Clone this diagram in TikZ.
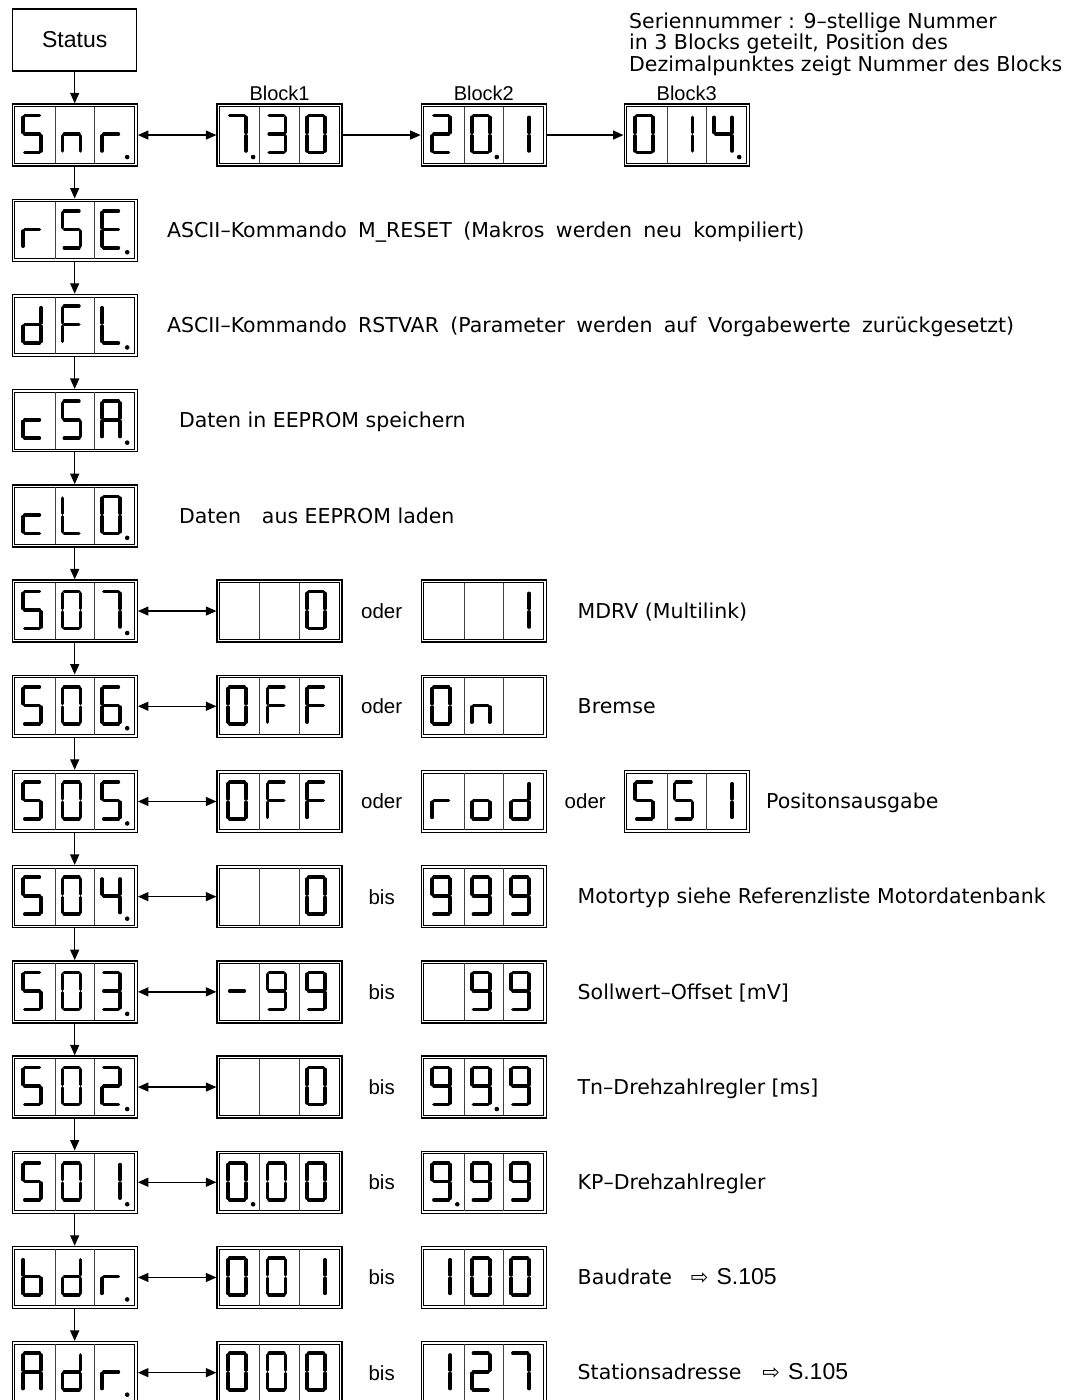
\documentclass[tikz,border=0pt]{standalone}
\usepackage{fontspec}
\setmainfont{DejaVu Sans}
\newfontfamily\arialfont{Liberation Sans}
\usetikzlibrary{arrows.meta,positioning,calc}

\pgfkeys{
  /seven/0/.initial={a,b,c,d,e,f},
  /seven/1/.initial={b,c},
  /seven/2/.initial={a,b,d,e,g},
  /seven/3/.initial={a,b,c,d,g},
  /seven/4/.initial={b,c,f,g},
  /seven/5/.initial={a,c,d,f,g},
  /seven/6/.initial={a,c,d,e,f,g},
  /seven/7/.initial={a,b,c},
  /seven/9/.initial={a,b,c,d,f,g},
  /seven/A/.initial={a,b,c,e,f,g},
  /seven/b/.initial={c,d,e,f,g},
  /seven/c/.initial={d,e,g},
  /seven/d/.initial={b,c,d,e,g},
  /seven/E/.initial={a,d,e,f,g},
  /seven/F/.initial={a,e,f,g},
  /seven/L/.initial={d,e,f},
  /seven/n/.initial={c,e,g},
  /seven/o/.initial={c,d,e,g},
  /seven/r/.initial={e,g},
  /seven/-/.initial={g},
  /seven/x/.initial={z},
  /seven/seg/a/.initial={(1.7,0) -- (16.3,0)},
  /seven/seg/b/.initial={(18,1.7) -- (18,16.8)},
  /seven/seg/c/.initial={(18,20.2) -- (18,35.3)},
  /seven/seg/d/.initial={(1.7,37) -- (16.3,37)},
  /seven/seg/e/.initial={(0,20.2) -- (0,35.3)},
  /seven/seg/f/.initial={(0,1.7) -- (0,16.8)},
  /seven/seg/g/.initial={(1.7,18.5) -- (16.3,18.5)},
  /seven/seg/z/.initial={(0,0)},
}

\tikzset{
  seg/.style={line width=3.6pt, line cap=round},
  pics/digit/.style={code={%
    \pgfkeysgetvalue{/seven/#1}\seglist
    \foreach \s in \seglist {\pgfkeysgetvalue{/seven/seg/\s}\segpath \draw[seg] \segpath;}
  }},
}

\newcommand\disp[6]{%
  \node[dispbox, #2] (#1) {};
  \draw[dispin] ([shift={(3.3,3.3)}]#1.north west) rectangle ([shift={(-3.3,-3.3)}]#1.south east);
  \draw[divider] ([shift={(-19.75,3.3)}]#1.north) -- ([shift={(-19.75,-3.3)}]#1.south);
  \draw[divider] ([shift={(19.75,3.3)}]#1.north) -- ([shift={(19.75,-3.3)}]#1.south);
  \foreach \ch [count=\k from 0] in {#3,#4,#5}
    \pic at ([shift={(-51.6+39.5*\k,-19.4)}]#1.center) {digit=\ch};
  \ifnum#6>0 \fill ([shift={(-66+39.5*#6,22)}]#1.center) circle[radius=2.3pt];\fi
}

\begin{document}
\begin{tikzpicture}[x=1pt, y=-1pt,
    dispbox/.style={draw, line width=1.4pt, minimum width=125pt, minimum height=62pt, inner sep=0pt},
    dispin/.style={line width=0.9pt},
    divider/.style={line width=0.8pt, black!75},
    statbox/.style={draw, line width=1.2pt, minimum width=124pt, minimum height=62pt, font=\arialfont\fontsize{23}{25}\selectfont},
    blbl/.style={font=\arialfont\fontsize{20}{22}\selectfont, inner sep=0pt, text depth=0pt},
    conj/.style={font=\arialfont\fontsize{20.5}{22}\selectfont, inner sep=0pt, text height=15pt, text depth=0pt},
    desc/.style={anchor=west, font=\fontsize{20.5}{22}\selectfont, inner sep=0pt, text height=14.5pt, text depth=0pt},
    wide/.style={execute at begin node={\spaceskip=11.4pt plus 1pt minus 1pt}},
    note/.style={anchor=base west, font=\fontsize{20.5}{21.5}\selectfont, inner sep=0pt},
    arr/.style={-{Triangle[length=10.5pt,width=9pt]}, line width=1.3pt},
    darr/.style={{Triangle[length=10.5pt,width=9pt]}-{Triangle[length=10.5pt,width=9pt]}, line width=1.3pt}
  ]
  \useasboundingbox (0,0) rectangle (1089,1400);
  \node[statbox] (status) at (74.7,40) {Status};
  \node[note] (n1) at (629,28) {Seriennummer : 9–stellige Nummer};
  \node[note] (n2) at (629,49.5) {in 3 Blocks geteilt, Position des};
  \node[note] (n3) at (629,71) {Dezimalpunktes zeigt Nummer des Blocks};

  \disp{s0}{below=31.75pt of status}{5}{n}{r}{3}
  \disp{b1}{right=78.5pt of s0}{7}{3}{0}{1}
  \disp{b2}{right=77.8pt of b1}{2}{0}{1}{2}
  \disp{b3}{right=76.5pt of b2}{0}{1}{4}{3}
  \node[blbl, above=3pt of b1] (l1) {Block1};
  \node[blbl, above=3pt of b2] (l2) {Block2};
  \node[blbl, above=3pt of b3] (l3) {Block3};

  \disp{s1}{below=31.8pt of s0}{r}{5}{E}{3}
  \disp{s2}{below=31.8pt of s1}{d}{F}{L}{3}
  \disp{s3}{below=31.8pt of s2}{c}{5}{A}{3}
  \disp{s4}{below=31.8pt of s3}{c}{L}{0}{3}
  \disp{s5}{below=31.8pt of s4}{5}{0}{7}{3}
  \disp{s6}{below=31.8pt of s5}{5}{0}{6}{3}
  \disp{s7}{below=31.8pt of s6}{5}{0}{5}{3}
  \disp{s8}{below=31.8pt of s7}{5}{0}{4}{3}
  \disp{s9}{below=31.8pt of s8}{5}{0}{3}{3}
  \disp{s10}{below=31.8pt of s9}{5}{0}{2}{3}
  \disp{s11}{below=31.8pt of s10}{5}{0}{1}{3}
  \disp{s12}{below=31.8pt of s11}{b}{d}{r}{3}
  \disp{s13}{below=31.8pt of s12}{A}{d}{r}{3}

  \node[desc, wide, right=29pt of s1] (t1) {ASCII–Kommando M\_RESET (Makros werden neu kompiliert)};
  \node[desc, wide, right=29pt of s2] (t2) {ASCII–Kommando RSTVAR (Parameter werden auf Vorgabewerte zurückgesetzt)};
  \node[desc, right=41pt of s3] (t3) {Daten in EEPROM speichern};
  \node[desc, right=41pt of s4] (t4) {Daten\hspace{0.7em} aus EEPROM laden};

  \disp{v5-a}{right=78.5pt of s5}{x}{x}{0}{0}
  \disp{v5-b}{right=77.8pt of v5-a}{x}{x}{1}{0}
  \node[conj] (c5) at ($(v5-a.east)!0.5!(v5-b.west)$) {oder};
  \node[desc, right=30.5pt of v5-b] (t5) {MDRV (Multilink)};

  \disp{v6-a}{right=78.5pt of s6}{0}{F}{F}{0}
  \disp{v6-b}{right=77.8pt of v6-a}{0}{n}{x}{0}
  \node[conj] (c6) at ($(v6-a.east)!0.5!(v6-b.west)$) {oder};
  \node[desc, right=30.5pt of v6-b] (t6) {Bremse};

  \disp{v7-a}{right=78.5pt of s7}{0}{F}{F}{0}
  \disp{v7-b}{right=77.8pt of v7-a}{r}{o}{d}{0}
  \disp{v7-c}{right=76.5pt of v7-b}{5}{5}{1}{0}
  \node[conj] (c7) at ($(v7-a.east)!0.5!(v7-b.west)$) {oder};
  \node[conj] (d7) at ($(v7-b.east)!0.5!(v7-c.west)$) {oder};
  \node[desc, right=16pt of v7-c] (t7) {Positonsausgabe};

  \disp{v8-a}{right=78.5pt of s8}{x}{x}{0}{0}
  \disp{v8-b}{right=77.8pt of v8-a}{9}{9}{9}{0}
  \node[conj] (c8) at ($(v8-a.east)!0.5!(v8-b.west)$) {bis};
  \node[desc, right=30.5pt of v8-b] (t8) {Motortyp siehe Referenzliste Motordatenbank};

  \disp{v9-a}{right=78.5pt of s9}{-}{9}{9}{0}
  \disp{v9-b}{right=77.8pt of v9-a}{x}{9}{9}{0}
  \node[conj] (c9) at ($(v9-a.east)!0.5!(v9-b.west)$) {bis};
  \node[desc, right=30.5pt of v9-b] (t9) {Sollwert–Offset [mV]};

  \disp{v10-a}{right=78.5pt of s10}{x}{x}{0}{0}
  \disp{v10-b}{right=77.8pt of v10-a}{9}{9}{9}{2}
  \node[conj] (c10) at ($(v10-a.east)!0.5!(v10-b.west)$) {bis};
  \node[desc, right=30.5pt of v10-b] (t10) {Tn–Drehzahlregler [ms]};

  \disp{v11-a}{right=78.5pt of s11}{0}{0}{0}{1}
  \disp{v11-b}{right=77.8pt of v11-a}{9}{9}{9}{1}
  \node[conj] (c11) at ($(v11-a.east)!0.5!(v11-b.west)$) {bis};
  \node[desc, right=30.5pt of v11-b] (t11) {KP–Drehzahlregler};

  \disp{v12-a}{right=78.5pt of s12}{0}{0}{1}{0}
  \disp{v12-b}{right=77.8pt of v12-a}{1}{0}{0}{0}
  \node[conj] (c12) at ($(v12-a.east)!0.5!(v12-b.west)$) {bis};
  \node[desc, right=30.5pt of v12-b] (t12) {Baudrate\hspace{19pt}{\fontsize{21}{21}\selectfont ⇨}\hspace{8pt}{\arialfont\fontsize{23}{23}\selectfont S.105}};

  \disp{v13-a}{right=78.5pt of s13}{0}{0}{0}{0}
  \disp{v13-b}{right=77.8pt of v13-a}{1}{2}{7}{0}
  \node[conj] (c13) at ($(v13-a.east)!0.5!(v13-b.west)$) {bis};
  \node[desc, right=30.5pt of v13-b] (t13) {Stationsadresse\hspace{21pt}{\fontsize{21}{21}\selectfont ⇨}\hspace{8pt}{\arialfont\fontsize{23}{23}\selectfont S.105}};

  \draw[arr] (status) -- (s0);
  \foreach \i [count=\j] in {0,...,12} \draw[arr] (s\i) -- (s\j);
  \draw[darr] (s0) -- (b1);
  \draw[arr] (b1) -- (b2);
  \draw[arr] (b2) -- (b3);
  \foreach \i in {5,...,13} \draw[darr] (s\i) -- (v\i-a);
\end{tikzpicture}
\end{document}
